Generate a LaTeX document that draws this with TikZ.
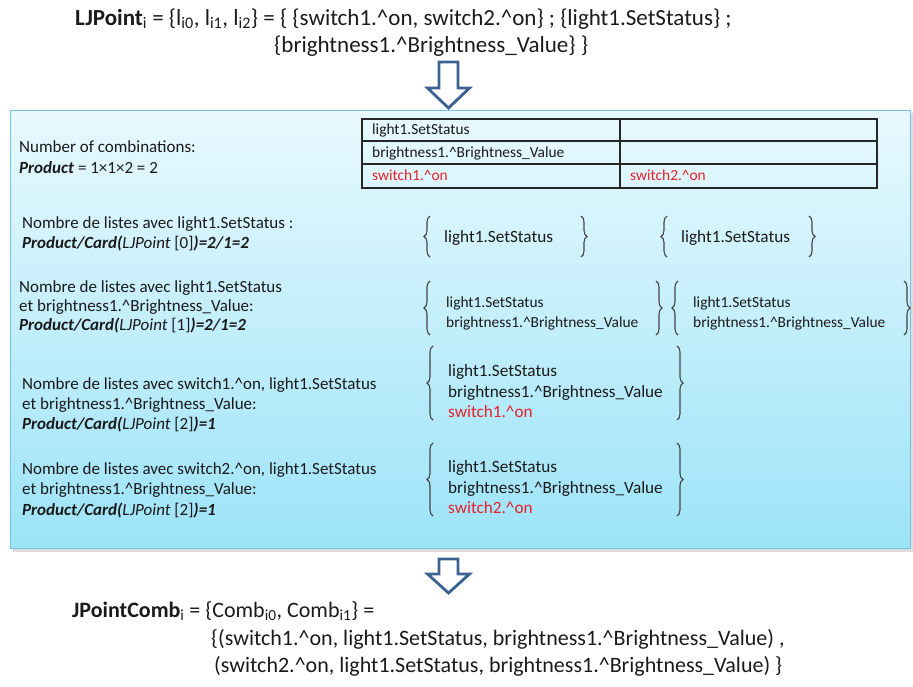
\documentclass[tikz,border=0pt]{standalone}
\usepackage{fontspec}
\setmainfont{Carlito}
\usetikzlibrary{decorations.pathreplacing}
\definecolor{txt}{HTML}{1A1A1A}
\definecolor{redt}{HTML}{E8202A}
\definecolor{arrowc}{HTML}{3B6290}
\definecolor{boxtop}{HTML}{E8F9FE}
\definecolor{boxbot}{HTML}{9CE3F8}
\definecolor{boxline}{HTML}{74C2E0}
\definecolor{bracec}{HTML}{454545}
\newcommand{\cir}{\textasciicircum}
\newcommand{\prodline}[2]{\textbf{\textit{Product/Card(}}\textit{LJPoint} [#1]\textbf{\textit{)=#2}}}
\begin{document}
\begin{tikzpicture}[x=1pt,y=-1pt,
  big/.style={anchor=base west,inner sep=0pt,font=\fontsize{23}{27}\selectfont,text=txt},
  bigb/.style={anchor=base west,inner sep=0pt,font=\fontsize{22}{27}\selectfont,text=txt},
  mid/.style={anchor=base west,inner sep=0pt,font=\fontsize{17}{20}\selectfont,text=txt},
  tab/.style={anchor=base west,inner sep=0pt,font=\fontsize{15.4}{18}\selectfont,text=txt},
  brtxt/.style={anchor=base west,inner sep=0pt,font=\fontsize{17.2}{20}\selectfont,text=txt},
  brsm/.style={anchor=base west,inner sep=0pt,font=\fontsize{15.4}{18}\selectfont,text=txt},
  hollow/.style={draw=arrowc,line width=2.8pt,fill=white,line join=miter},
  brc/.style={draw=bracec,line width=1.1pt,decorate,decoration={brace,amplitude=6pt}},
  tline/.style={draw=black!85,line width=1.1pt}]
\useasboundingbox (0,0) rectangle (913,686);

% top formula
\node[big] (t1) at (75,25) {\textbf{LJPoint}\textsubscript{i} = \{l\textsubscript{i0}, l\textsubscript{i1}, l\textsubscript{i2}\} = \{ \{switch1.\cir on, switch2.\cir on\} ; \{light1.SetStatus\} ;};
\node[big] (t2) at (274,52) {\{brightness1.\cir Brightness\_Value\} \}};

% arrow 1
\draw[hollow] (439,62) -- (458,62) -- (458,88) -- (469.5,88) -- (448.5,108) -- (427.5,88) -- (439,88) -- cycle;

% main box with soft shadow
\path[fill=black!30,opacity=0.45] (13,113) rectangle (912.5,552);
\node[draw=boxline,line width=1.4pt,top color=boxtop,bottom color=boxbot,minimum width=900pt,minimum height=438pt,inner sep=0pt,anchor=north west] (box) at (10,110) {};

% table
\draw[tline] (361,119) -- (878,119) (361,141) -- (878,141) (361,164) -- (878,164) (361,188) -- (878,188);
\draw[tline] (362,119) -- (362,188) (620,119) -- (620,188) (877,119) -- (877,188);
\node[tab] (c1) at (372,134) {light1.SetStatus};
\node[tab] (c2) at (372,157) {brightness1.\cir Brightness\_Value};
\node[tab,text=redt] (c3) at (372,180) {switch1.\cir on};
\node[tab,text=redt] (c4) at (630,180) {switch2.\cir on};

% left texts
\node[mid] (n1) at (19,152) {Number of combinations:};
\node[mid] (n2) at (19,173) {\textbf{\textit{Product}} = 1×1×2 = 2};

\node[mid] (a1) at (22,228) {Nombre de listes avec light1.SetStatus :};
\node[mid] (a2) at (22,248) {\prodline{0}{2/1=2}};

\node[mid] (b1) at (19,292) {Nombre de listes avec light1.SetStatus};
\node[mid] (b2) at (19,311) {et brightness1.\cir Brightness\_Value:};
\node[mid] (b3) at (19,330) {\prodline{1}{2/1=2}};

\node[mid] (d1) at (22,389) {Nombre de listes avec switch1.\cir on, light1.SetStatus};
\node[mid] (d2) at (22,409) {et brightness1.\cir Brightness\_Value:};
\node[mid] (d3) at (22,429) {\prodline{2}{1}};

\node[mid] (e1) at (22,474) {Nombre de listes avec switch2.\cir on, light1.SetStatus};
\node[mid] (e2) at (22,494) {et brightness1.\cir Brightness\_Value:};
\node[mid] (e3) at (22,515) {\prodline{2}{1}};

% row 1 braces
\draw[brc] (430,257) -- (430,216);
\node[brtxt] (r1a) at (444,242) {light1.SetStatus};
\draw[brc] (581,216) -- (581,257);
\draw[brc] (667,257) -- (667,216);
\node[brtxt] (r1b) at (681,242) {light1.SetStatus};
\draw[brc] (809,216) -- (809,257);

% row 2 braces
\draw[brc] (430,335) -- (430,281);
\node[brsm] (r2a) at (446,307) {light1.SetStatus};
\node[brsm] (r2b) at (446,327) {brightness1.\cir Brightness\_Value};
\draw[brc] (656,281) -- (656,335);
\draw[brc] (678,335) -- (678,281);
\node[brsm] (r2c) at (693,307) {light1.SetStatus};
\node[brsm] (r2d) at (693,327) {brightness1.\cir Brightness\_Value};
\draw[brc] (904,281) -- (904,335);

% row 3 braces
\draw[brc] (433,420) -- (433,346);
\node[brtxt] (r3a) at (448,376) {light1.SetStatus};
\node[brtxt] (r3b) at (448,397) {brightness1.\cir Brightness\_Value};
\node[brtxt,text=redt] (r3c) at (448,417) {switch1.\cir on};
\draw[brc] (677,346) -- (677,420);

% row 4 braces
\draw[brc] (433,516) -- (433,443);
\node[brtxt] (r4a) at (448,472) {light1.SetStatus};
\node[brtxt] (r4b) at (448,493) {brightness1.\cir Brightness\_Value};
\node[brtxt,text=redt] (r4c) at (448,513) {switch2.\cir on};
\draw[brc] (677,443) -- (677,516);

% arrow 2
\draw[hollow] (439,559) -- (458,559) -- (458,574) -- (469.5,574) -- (448.5,593) -- (427.5,574) -- (439,574) -- cycle;

% bottom formula
\node[bigb] (f1) at (72,617) {\textbf{JPointComb}\textsubscript{i} = \{Comb\textsubscript{i0}, Comb\textsubscript{i1}\} =};
\node[bigb] (f2) at (211,645) {\{(switch1.\cir on, light1.SetStatus, brightness1.\cir Brightness\_Value) ,};
\node[bigb] (f3) at (214,672) {(switch2.\cir on, light1.SetStatus, brightness1.\cir Brightness\_Value) \}};
\end{tikzpicture}
\end{document}
